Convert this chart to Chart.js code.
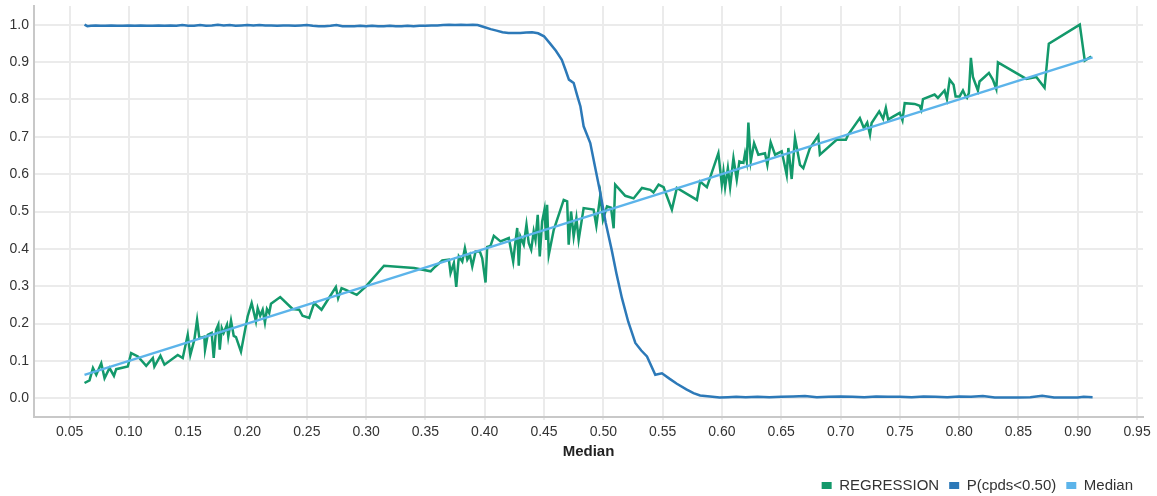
<!DOCTYPE html>
<html>
<head>
<meta charset="utf-8">
<script src="https://cdn.jsdelivr.net/npm/chart.js@4/dist/chart.umd.min.js"></script>
<style>
  html, body { margin: 0; padding: 0; background: #ffffff; }
  #wrap { width: 1157px; height: 496px; position: relative; }
</style>
</head>
<body>
<div id="wrap"><canvas id="c" width="1157" height="496"></canvas></div>
<script>
// ---- Data ----
const seriesNames = ["REGRESSION", "P(cpds<0.50)", "Median"];

const regX = [0.0626,0.0668,0.0697,0.0725,0.0767,0.0795,0.0837,0.0874,0.0893,0.0991,0.1019,0.1076,0.1146,0.1202,0.1215,0.1266,0.1300,0.1412,0.1454,0.1496,0.1518,0.1552,0.1575,0.1594,0.1636,0.1642,0.1665,0.1698,0.1715,0.1735,0.1754,0.1766,0.1783,0.1799,0.1827,0.1838,0.1861,0.1884,0.1903,0.1945,0.2001,0.2035,0.2071,0.2086,0.2107,0.2128,0.2147,0.2164,0.2183,0.2198,0.2276,0.2380,0.2436,0.2464,0.2520,0.2562,0.2624,0.2745,0.2764,0.2793,0.2829,0.2921,0.2997,0.3151,0.3404,0.3544,0.3572,0.3642,0.3698,0.3712,0.3740,0.3760,0.3782,0.3811,0.3833,0.3853,0.3875,0.3895,0.3923,0.3959,0.3979,0.4007,0.4021,0.4049,0.4077,0.4133,0.4203,0.4240,0.4254,0.4274,0.4287,0.4301,0.4329,0.4352,0.4371,0.4392,0.4413,0.4428,0.4447,0.4464,0.4484,0.4504,0.4518,0.4526,0.4540,0.4582,0.4666,0.4695,0.4708,0.4728,0.4750,0.4773,0.4792,0.4834,0.4918,0.4941,0.4975,0.4997,0.5031,0.5065,0.5087,0.5100,0.5185,0.5255,0.5326,0.5396,0.5423,0.5466,0.5508,0.5578,0.5620,0.5789,0.5816,0.5873,0.5970,0.5999,0.6013,0.6027,0.6050,0.6069,0.6097,0.6125,0.6147,0.6181,0.6195,0.6209,0.6223,0.6243,0.6271,0.6307,0.6363,0.6383,0.6411,0.6448,0.6504,0.6546,0.6560,0.6588,0.6616,0.6658,0.6686,0.6742,0.6812,0.6826,0.6967,0.7045,0.7065,0.7163,0.7197,0.7225,0.7248,0.7262,0.7326,0.7359,0.7382,0.7401,0.7443,0.7499,0.7522,0.7541,0.7625,0.7667,0.7681,0.7695,0.7793,0.7821,0.7877,0.7897,0.7920,0.7953,0.7970,0.8004,0.8032,0.8055,0.8066,0.8082,0.8099,0.8116,0.8130,0.8158,0.8172,0.8214,0.8251,0.8284,0.8313,0.8327,0.8566,0.8650,0.8720,0.8756,0.9017,0.9059,0.9113];
const regY = [0.041,0.048,0.081,0.063,0.094,0.054,0.081,0.060,0.078,0.085,0.121,0.112,0.087,0.108,0.085,0.114,0.090,0.116,0.108,0.170,0.116,0.157,0.210,0.161,0.165,0.130,0.170,0.175,0.108,0.183,0.197,0.130,0.188,0.175,0.197,0.165,0.208,0.167,0.164,0.125,0.219,0.255,0.206,0.241,0.221,0.237,0.203,0.239,0.228,0.253,0.271,0.239,0.237,0.221,0.215,0.255,0.237,0.298,0.268,0.295,0.290,0.277,0.299,0.355,0.349,0.340,0.349,0.369,0.371,0.335,0.362,0.298,0.380,0.366,0.402,0.371,0.384,0.353,0.393,0.393,0.375,0.310,0.405,0.408,0.435,0.420,0.429,0.366,0.406,0.456,0.355,0.433,0.411,0.465,0.416,0.398,0.447,0.424,0.491,0.380,0.473,0.505,0.424,0.518,0.384,0.451,0.531,0.527,0.411,0.500,0.433,0.482,0.424,0.509,0.505,0.462,0.545,0.478,0.514,0.510,0.455,0.572,0.542,0.535,0.563,0.558,0.551,0.572,0.565,0.505,0.563,0.531,0.580,0.565,0.656,0.572,0.607,0.565,0.616,0.565,0.643,0.585,0.634,0.630,0.656,0.634,0.738,0.634,0.683,0.652,0.656,0.625,0.685,0.652,0.661,0.598,0.670,0.587,0.697,0.625,0.616,0.670,0.703,0.652,0.692,0.692,0.706,0.750,0.723,0.738,0.706,0.737,0.768,0.748,0.777,0.746,0.754,0.764,0.744,0.790,0.788,0.783,0.772,0.801,0.813,0.804,0.824,0.801,0.853,0.839,0.808,0.808,0.824,0.808,0.804,0.817,0.911,0.860,0.848,0.824,0.848,0.860,0.871,0.853,0.828,0.899,0.855,0.860,0.831,0.949,1.000,0.904,0.915];

const pX = [0.0626,0.0650,0.0680,0.0720,0.0760,0.0800,0.0850,0.0900,0.0950,0.1000,0.1050,0.1100,0.1150,0.1200,0.1250,0.1300,0.1350,0.1400,0.1450,0.1500,0.1550,0.1600,0.1650,0.1700,0.1750,0.1800,0.1850,0.1900,0.1950,0.2000,0.2050,0.2100,0.2150,0.2200,0.2250,0.2300,0.2350,0.2400,0.2450,0.2500,0.2550,0.2600,0.2650,0.2700,0.2750,0.2800,0.2850,0.2900,0.2950,0.3000,0.3050,0.3100,0.3150,0.3200,0.3250,0.3300,0.3350,0.3400,0.3450,0.3500,0.3550,0.3600,0.3650,0.3700,0.3750,0.3800,0.3850,0.3900,0.3940,0.4000,0.4050,0.4100,0.4150,0.4200,0.4250,0.4300,0.4350,0.4400,0.4450,0.4500,0.4550,0.4600,0.4650,0.4680,0.4710,0.4750,0.4780,0.4807,0.4834,0.4890,0.4930,0.4975,0.5020,0.5070,0.5110,0.5157,0.5210,0.5270,0.5320,0.5368,0.5438,0.5494,0.5560,0.5620,0.5700,0.5760,0.5816,0.5900,0.5980,0.605,0.612,0.620,0.630,0.640,0.650,0.660,0.670,0.680,0.690,0.700,0.710,0.720,0.730,0.740,0.750,0.760,0.770,0.780,0.790,0.800,0.810,0.820,0.830,0.840,0.850,0.860,0.870,0.880,0.890,0.900,0.905,0.9125];
const pY = [1.000,0.996,0.997,0.998,0.997,0.997,0.998,0.997,0.997,0.998,0.997,0.998,0.997,0.997,0.998,0.997,0.998,0.997,0.999,0.997,0.997,0.999,0.997,0.998,1.000,0.998,0.999,0.997,0.998,0.999,0.998,0.999,0.998,0.998,0.997,0.998,0.998,0.997,0.998,0.999,0.997,0.996,0.996,0.997,0.999,0.996,0.996,0.996,0.997,0.996,0.997,0.996,0.996,0.997,0.996,0.996,0.997,0.996,0.997,0.997,0.998,0.998,0.999,1.000,0.999,1.000,0.999,1.000,0.999,0.993,0.988,0.984,0.980,0.978,0.978,0.978,0.979,0.980,0.977,0.969,0.950,0.930,0.906,0.880,0.853,0.844,0.810,0.781,0.728,0.683,0.620,0.549,0.470,0.398,0.335,0.268,0.205,0.148,0.128,0.112,0.063,0.067,0.052,0.039,0.024,0.014,0.0075,0.005,0.002,0.003,0.004,0.003,0.004,0.003,0.004,0.005,0.006,0.003,0.004,0.005,0.004,0.003,0.005,0.004,0.004,0.003,0.005,0.004,0.003,0.005,0.004,0.006,0.002,0.002,0.002,0.003,0.007,0.002,0.002,0.002,0.004,0.003];

const medX = [0.0626, 0.9125];
const medY = [0.0626, 0.9125];

const xTicks = [0.05,0.10,0.15,0.20,0.25,0.30,0.35,0.40,0.45,0.50,0.55,0.60,0.65,0.70,0.75,0.80,0.85,0.90,0.95];
const yTicks = [0.0,0.1,0.2,0.3,0.4,0.5,0.6,0.7,0.8,0.9,1.0];
const xTitle = "Median";

const colors = ["#13996b", "#2c79b8", "#5cb4ea"];

// ---- Build chart ----
function pts(xs, ys) { return xs.map((x, i) => ({ x: x, y: ys[i] })); }

const fam = "'Liberation Sans', Arial, sans-serif";
const tickFont = { family: fam, size: 14 };

new Chart(document.getElementById('c'), {
  type: 'scatter',
  data: {
    datasets: [
      { label: seriesNames[0], data: pts(regX, regY), borderColor: colors[0], backgroundColor: colors[0], order: 3 },
      { label: seriesNames[1], data: pts(pX, pY), borderColor: colors[1], backgroundColor: colors[1], order: 2 },
      { label: seriesNames[2], data: pts(medX, medY), borderColor: colors[2], backgroundColor: colors[2], order: 1 }
    ]
  },
  options: {
    responsive: false,
    animation: false,
    showLine: true,
    elements: {
      point: { radius: 0, hoverRadius: 0 },
      line: { borderWidth: 2.5, tension: 0, fill: false }
    },
    layout: { padding: { left: 0, right: 14, top: 6, bottom: 0 } },
    scales: {
      x: {
        type: 'linear',
        min: 0.02,
        max: 0.955,
        afterBuildTicks: (s) => { s.ticks = xTicks.map(v => ({ value: v })); },
        afterFit: (s) => { s.height = 51; s.paddingLeft = 0; s.paddingRight = 0; },
        ticks: {
          font: tickFont,
          color: '#333',
          padding: 4,
          maxRotation: 0,
          autoSkip: false,
          callback: (v) => Number(v).toFixed(2)
        },
        grid: { color: '#ebebeb', lineWidth: 2, tickLength: 3, drawTicks: true },
        border: { display: true, color: '#c8c8c8', width: 2 },
        title: {
          display: true,
          text: xTitle,
          color: '#222',
          font: { family: fam, size: 15, weight: 'bold' },
          padding: { top: 2, bottom: 7 }
        }
      },
      y: {
        type: 'linear',
        min: -0.05,
        max: 1.05,
        afterBuildTicks: (s) => { s.ticks = yTicks.map(v => ({ value: v })); },
        afterFit: (s) => { s.width = 34; s.paddingTop = 0; s.paddingBottom = 0; },
        ticks: {
          font: tickFont,
          color: '#333',
          padding: 5,
          callback: (v) => Number(v).toFixed(1)
        },
        grid: { color: '#ebebeb', lineWidth: 2, drawTicks: false },
        border: { display: true, color: '#c8c8c8', width: 2 }
      }
    },
    plugins: {
      tooltip: { enabled: false },
      legend: {
        display: true,
        position: 'bottom',
        align: 'end',
        maxHeight: 28,
        labels: {
          font: { family: fam, size: 15 },
          color: '#333',
          boxWidth: 10,
          boxHeight: 7,
          padding: 10,
          sort: (a, b) => a.datasetIndex - b.datasetIndex,
          generateLabels: (chart) => Chart.defaults.plugins.legend.labels.generateLabels(chart).map(l => Object.assign(l, { lineWidth: 0 }))
        }
      }
    }
  }
});
</script>
</body>
</html>
